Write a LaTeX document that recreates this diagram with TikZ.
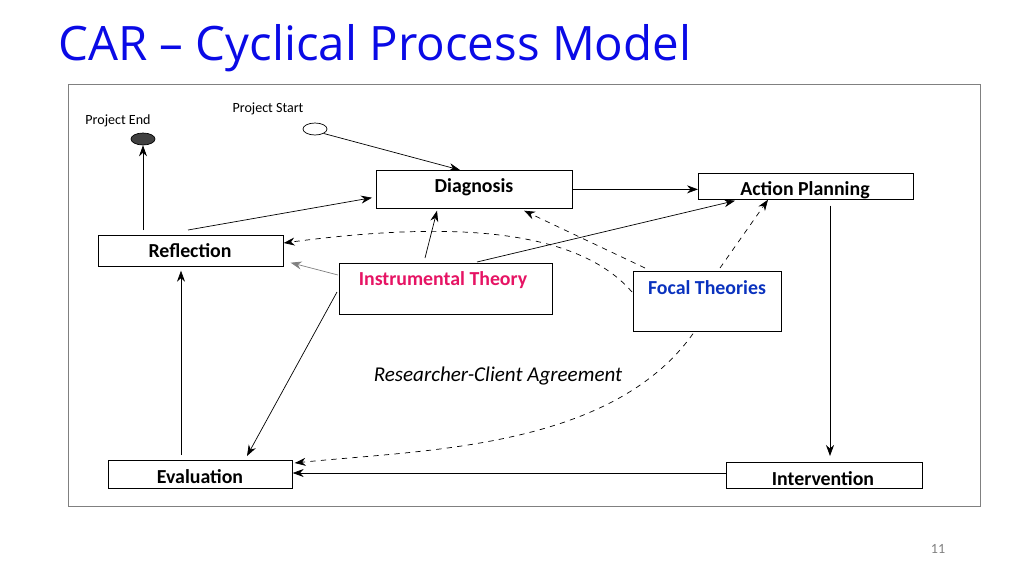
\documentclass[tikz,border=0pt]{standalone}
\usepackage{fontspec}
\setmainfont{Carlito}
\newfontfamily\titlefont{Open Sans}
\usetikzlibrary{positioning, calc, shapes.geometric, arrows.meta}
\definecolor{titleblue}{RGB}{10,10,230}
\definecolor{instpink}{RGB}{230,20,100}
\definecolor{focalblue}{RGB}{10,50,190}
\tikzstyle{stage}=[draw, thin, inner sep=0pt, anchor=north west]
\tikzstyle{label}=[font=\bfseries\fontsize{11.3}{13}\selectfont]
\tikzstyle{flow}=[-{Stealth[length=2.2mm,width=1.6mm]}, thin]
\tikzstyle{theoryFlow}=[flow, dashed]
\begin{document}
\begin{tikzpicture}[x=0.02cm, y=-0.02cm]
      \useasboundingbox (0,0) rectangle (1024,575);
      \node[font=\titlefont\fontsize{27}{32}\selectfont, text=titleblue, anchor=west, inner sep=0pt] (title) at (58,48) {CAR – Cyclical Process Model};
      \draw[gray] (68,84) rectangle (980,506);

      % stages
      \node[stage, minimum width=3.92cm, minimum height=0.76cm] (diag) at (376,170) {};
      \node[label] at (474,187) {Diagnosis};
      \node[stage, minimum width=4.3cm, minimum height=0.52cm] (plan) at (698,173) {};
      \node[label] at (805,190) {Action Planning};
      \node[stage, minimum width=3.7cm, minimum height=0.62cm] (refl) at (98,235) {};
      \node[label] at (190,251) {Reflection};
      \node[stage, minimum width=4.26cm, minimum height=1.02cm] (inst) at (339,263) {};
      \node[label, text=instpink] at (443,280) {Instrumental Theory};
      \node[stage, minimum width=2.96cm, minimum height=1.2cm] (focal) at (633,271) {};
      \node[label, text=focalblue] at (707,288) {Focal Theories};
      \node[stage, minimum width=3.68cm, minimum height=0.56cm] (eval) at (108,460) {};
      \node[label] at (200,477) {Evaluation};
      \node[stage, minimum width=3.92cm, minimum height=0.52cm] (interv) at (726,462) {};
      \node[label] at (823,479) {Intervention};
      \node[font=\itshape\fontsize{12}{14}\selectfont] (agree) at (498,376) {Researcher-Client Agreement};

      % start and end
      \node[font=\fontsize{8}{10}\selectfont] (startT) at (268,109) {Project Start};
      \node[draw, ellipse, minimum width=0.48cm, minimum height=0.24cm, inner sep=0pt] (start) at (315,129) {};
      \node[font=\fontsize{8}{10}\selectfont] (endT) at (118,121) {Project End};
      \node[draw, ellipse, fill=black!75, minimum width=0.48cm, minimum height=0.24cm, inner sep=0pt] (end) at (143,139) {};
      \node[text=gray, font=\fontsize{8}{10}\selectfont] (page) at (938,549) {11};

      % cycle
      \draw[flow] (start.south east) -- ($(diag.north west)+(84,0)$);
      \draw[flow] (diag.east) -- (plan.west|-diag.east);
      \draw[flow] ($(plan.south west)+(132,6)$) -- ($(interv.north west)+(104,-6)$);
      \draw[flow] (interv.west|-0,473) -- (eval.east|-0,473);
      \draw[flow] ($(eval.north west)+(73,-5)$) -- ($(refl.south west)+(83,4)$);
      \draw[flow] ($(refl.north west)+(90,-5)$) -- ($(diag.south west)+(-4,-11)$);
      \draw[flow] ($(refl.north west)+(45,-5)$) -- (end.south);

      % instrumental theory
      \draw[flow] ($(inst.north west)+(86,-5)$) -- ($(diag.south west)+(61,2)$);
      \draw[flow] ($(inst.north west)+(138,-1)$) -- ($(plan.south west)+(37,1)$);
      \draw[flow, gray] ($(inst.north west)+(-1,12)$) -- ($(refl.south east)+(7,-4)$);
      \draw[flow] ($(inst.north west)+(-2,29)$) -- ($(eval.north west)+(139,-4)$);

      % focal theories
      \draw[theoryFlow] ($(focal.north west)+(12,-3)$) -- ($(diag.south west)+(148,2)$);
      \draw[theoryFlow] ($(focal.north west)+(-1,21)$) .. controls (570,220) and (420,225) .. (refl.east|-0,243);
      \draw[theoryFlow] ($(focal.north west)+(87,-3)$) -- ($(plan.south west)+(70,0)$);
      \draw[theoryFlow] ($(focal.south west)+(60,2)$) .. controls (610,450) and (420,450) .. ($(eval.north east)+(2,3)$);
\end{tikzpicture}
\end{document}
